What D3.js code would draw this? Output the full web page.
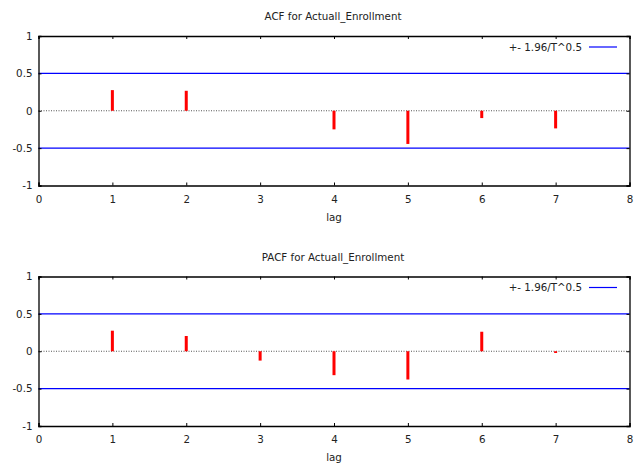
<!DOCTYPE html>
<html><head><meta charset="utf-8">
<script src="https://cdn.jsdelivr.net/npm/d3@7"></script>
<style>body{margin:0;background:#fff}svg{display:block}text{font-family:"DejaVu Sans",sans-serif;fill:#222}</style>
</head><body>
<script>
const lags = [1,2,3,4,5,6,7];
const acfValues = [0.276, 0.267, 0, -0.249, -0.444, -0.098, -0.236];
const pacfValues = [0.275, 0.204, -0.125, -0.32, -0.378, 0.261, -0.023];
const bandValue = 0.5;
const xTicks = [0,1,2,3,4,5,6,7,8];
const yTicks = [-1,-0.5,0,0.5,1];
const yTickLabels = ["-1","-0.5","0","0.5","1"];
const titles = ["ACF for Actuall_Enrollment","PACF for Actuall_Enrollment"];
const legendLabel = "+- 1.96/T^0.5";

const W=635,H=464, FS=10.3;
const svg=d3.select("body").append("svg").attr("width",W).attr("height",H);

function panel(top, bottom, values, title){
  const x=d3.scaleLinear().domain([0,8]).range([38.5,629.5]);
  const y=d3.scaleLinear().domain([-1,1]).range([bottom,top]);
  const g=svg.append("g");
  g.append("text").attr("x",333).attr("y",top-16).attr("text-anchor","middle").attr("font-size",FS).text(title);
  // zero line
  g.append("line").attr("x1",x(0)).attr("x2",x(8)).attr("y1",y(0)).attr("y2",y(0))
    .attr("stroke","#555").attr("stroke-dasharray","1,1.5").attr("stroke-width",1);
  // bands
  [bandValue,-bandValue].forEach(v=>{
    g.append("line").attr("x1",x(0)).attr("x2",x(8)).attr("y1",y(v)).attr("y2",y(v))
      .attr("stroke","#0000ff").attr("stroke-width",1.2);
  });
  // bars
  g.selectAll("rect.bar").data(lags.map((l,i)=>({l,v:values[i]})).filter(d=>d.v!==0)).enter().append("rect")
    .attr("x",d=>x(d.l)-1.5).attr("width",3)
    .attr("y",d=>Math.min(y(d.v),y(0))).attr("height",d=>Math.max(1,Math.abs(y(d.v)-y(0))))
    .attr("fill","#ff0000");
  // axes
  const xb=g.append("g").attr("transform",`translate(0,${bottom})`)
    .call(d3.axisBottom(x).tickValues(xTicks).tickSize(-3).tickPadding(10).tickFormat(d3.format("d")));
  const xt=g.append("g").attr("transform",`translate(0,${top})`)
    .call(d3.axisTop(x).tickValues(xTicks).tickSize(-3).tickFormat(""));
  const yl=g.append("g").attr("transform",`translate(${x(0)},0)`)
    .call(d3.axisLeft(y).tickValues(yTicks).tickSize(-3).tickPadding(6).tickFormat((d,i)=>yTickLabels[i]));
  const yr=g.append("g").attr("transform",`translate(${x(8)},0)`)
    .call(d3.axisRight(y).tickValues(yTicks).tickSize(-3).tickFormat(""));
  [xb,xt,yl,yr].forEach(a=>{a.selectAll("path").attr("stroke","#000").attr("stroke-width",1.3);
    a.selectAll("line").attr("stroke","#000");
    a.selectAll("text").attr("font-size",FS).attr("fill","#222").attr("font-family","DejaVu Sans");});
  g.append("text").attr("x",x(4)).attr("y",bottom+35).attr("text-anchor","middle").attr("font-size",FS).text("lag");
  // legend
  g.append("text").attr("x",582).attr("y",top+14.5).attr("text-anchor","end").attr("font-size",FS).text(legendLabel);
  g.append("line").attr("x1",589).attr("x2",617).attr("y1",top+11).attr("y2",top+11).attr("stroke","#0000ff").attr("stroke-width",1.2);
}
panel(36,185.5,acfValues,titles[0]);
panel(276.5,426,pacfValues,titles[1]);
</script>
</body></html>
